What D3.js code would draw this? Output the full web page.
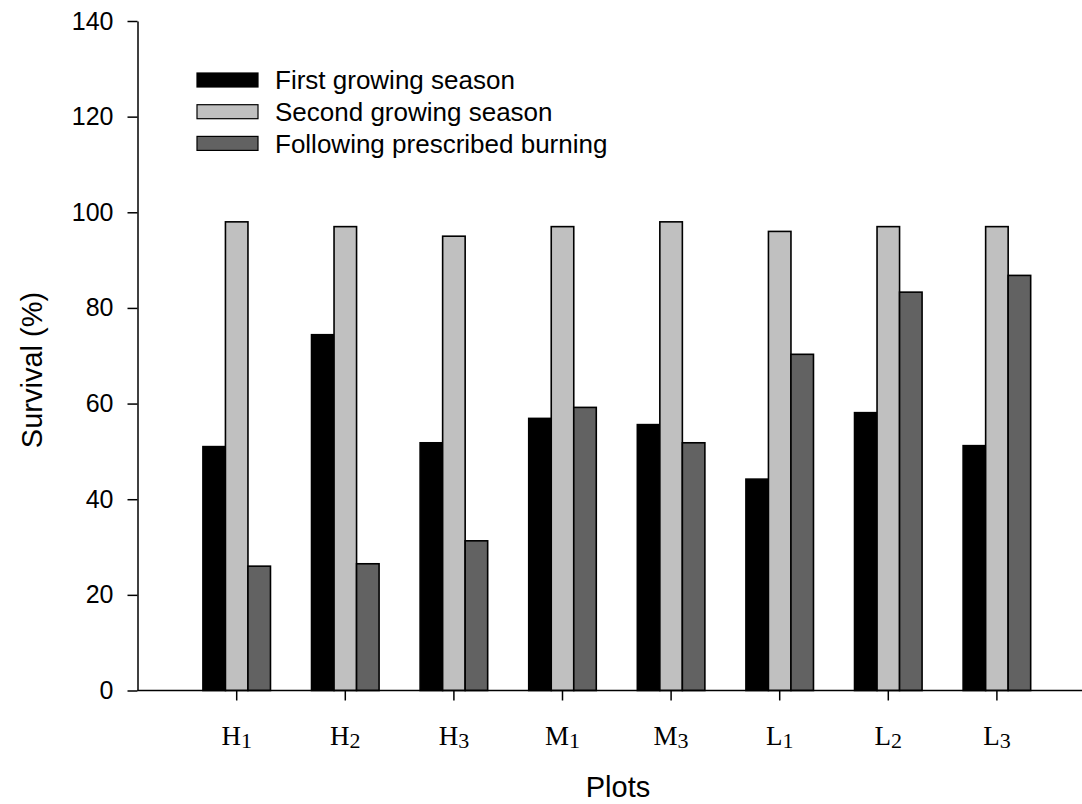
<!DOCTYPE html>
<html>
<head>
<meta charset="utf-8">
<script src="https://cdn.jsdelivr.net/npm/d3@7"></script>
<style>
  html, body { margin: 0; padding: 0; background: #fff; }
  svg { display: block; }
</style>
</head>
<body>
<svg id="chart" width="1082" height="804"></svg>
<script>
// Plot identifiers: letter + subscript digit
const plotLetters = ["H", "H", "H", "M", "M", "L", "L", "L"];
const plotDigits  = ["1", "2", "3", "1", "3", "1", "2", "3"];
const plots = plotLetters.map((l, i) => l + plotDigits[i]);

// Survival (%) by plot
const firstSeason  = [51.0, 74.4, 51.8, 56.9, 55.6, 44.2, 58.1, 51.2];
const secondSeason = [98, 97, 95, 97, 98, 96, 97, 97];
const afterBurning = [26.0, 26.5, 31.3, 59.2, 51.8, 70.3, 83.3, 86.8];

const seriesNames = ["First growing season", "Second growing season", "Following prescribed burning"];
const seriesValues = [firstSeason, secondSeason, afterBurning];
const seriesFills = ["#000000", "#c0c0c0", "#626262"];

const yTicks = [0, 20, 40, 60, 80, 100, 120, 140];

const svg = d3.select("#chart");
const font = "'Liberation Sans', Arial, sans-serif";
const serif = "'Liberation Serif', 'Times New Roman', serif";

const axisX = 137.5, axisYBottom = 690.5, axisYTop = 21, axisRight = 1082;

const y = d3.scaleLinear().domain([0, 140]).range([axisYBottom, axisYTop]);
const x = d3.scaleBand().domain(plots).range([182.4, 1051.2])
  .paddingInner(0.378).paddingOuter(0.189);
const xs = d3.scaleBand().domain(seriesNames).range([0, x.bandwidth()]);

// Bars
const rows = plots.map((p, i) => ({ plot: p, vals: seriesValues.map((s, j) => ({ name: seriesNames[j], v: s[i], fill: seriesFills[j] })) }));
const groups = svg.append("g").selectAll("g").data(rows).join("g")
  .attr("transform", d => `translate(${x(d.plot)},0)`);
groups.selectAll("rect").data(d => d.vals).join("rect")
  .attr("x", d => xs(d.name))
  .attr("y", d => y(d.v))
  .attr("width", xs.bandwidth())
  .attr("height", d => y(0) - y(d.v))
  .attr("fill", d => d.fill)
  .attr("stroke", "#000")
  .attr("stroke-width", 1.6);

// Y axis
const yAxis = svg.append("g").attr("transform", `translate(${axisX},0)`)
  .call(d3.axisLeft(y).tickValues(yTicks).tickSize(10).tickPadding(14).tickSizeOuter(0));
yAxis.select(".domain").attr("stroke", "#000").attr("stroke-width", 1.5);
yAxis.selectAll(".tick line").attr("stroke", "#000").attr("stroke-width", 1.5);
yAxis.selectAll(".tick text").attr("font-family", font).attr("font-size", 25).attr("fill", "#000");

// X axis
const xAxis = svg.append("g").attr("transform", `translate(0,${axisYBottom})`)
  .call(d3.axisBottom(x).tickSize(10).tickFormat(""));
xAxis.select(".domain").remove();
xAxis.selectAll(".tick line").attr("stroke", "#000").attr("stroke-width", 1.5);
svg.append("line")
  .attr("x1", axisX).attr("x2", axisRight)
  .attr("y1", axisYBottom).attr("y2", axisYBottom)
  .attr("stroke", "#000").attr("stroke-width", 1.5);

// Category labels with subscript digits
const labels = svg.append("g").selectAll("text").data(plots).join("text")
  .attr("x", d => x(d) + x.bandwidth() / 2)
  .attr("y", 745)
  .attr("text-anchor", "middle")
  .attr("font-family", serif)
  .attr("font-size", 27)
  .attr("fill", "#000");
labels.append("tspan").text((d, i) => plotLetters[i]);
labels.append("tspan").attr("dy", 3).attr("font-size", 22).text((d, i) => plotDigits[i]);

// Axis titles
svg.append("text")
  .attr("x", 618).attr("y", 797)
  .attr("text-anchor", "middle")
  .attr("font-family", font).attr("font-size", 29)
  .text("Plots");
svg.append("text")
  .attr("transform", "translate(42,370) rotate(-90)")
  .attr("text-anchor", "middle")
  .attr("font-family", font).attr("font-size", 29)
  .text("Survival (%)");

// Legend
const legend = svg.append("g").attr("transform", "translate(197,73)");
const items = legend.selectAll("g").data(seriesNames).join("g")
  .attr("transform", (d, i) => `translate(0,${i * 31.7})`);
items.append("rect")
  .attr("width", 61).attr("height", 14)
  .attr("fill", (d, i) => seriesFills[i])
  .attr("stroke", "#000").attr("stroke-width", 1.2);
items.append("text")
  .attr("x", 78).attr("y", 7)
  .attr("dy", "0.35em")
  .attr("font-family", font).attr("font-size", 26)
  .text(d => d);
</script>
</body>
</html>
